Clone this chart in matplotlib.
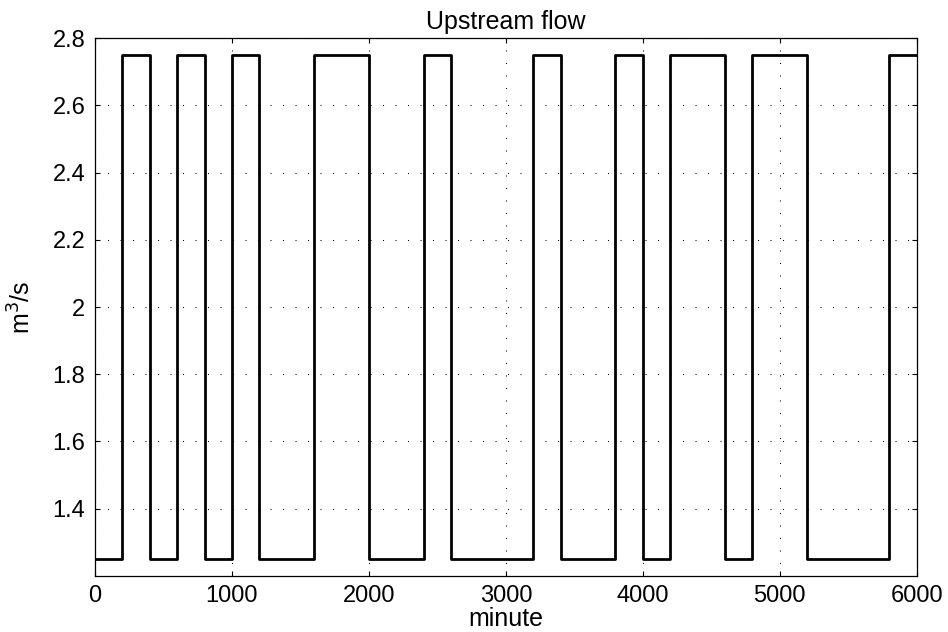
import matplotlib
matplotlib.use("Agg")
import matplotlib.pyplot as plt
import numpy as np

plt.rcParams['font.family'] = ['Liberation Sans', 'DejaVu Sans']

# interval edges (minutes) and flow per 200-minute interval
edges = list(range(0, 6001, 200))
levels = [1.25, 2.75, 1.25, 2.75, 1.25, 2.75, 1.25, 1.25, 2.75, 2.75,
          1.25, 1.25, 2.75, 1.25, 1.25, 1.25, 2.75, 1.25, 1.25, 2.75,
          1.25, 2.75, 2.75, 1.25, 2.75, 2.75, 1.25, 1.25, 1.25, 2.75]
xticks = [0, 1000, 2000, 3000, 4000, 5000, 6000]
yticks = [1.4, 1.6, 1.8, 2.0, 2.2, 2.4, 2.6, 2.8]
ytick_labels = ['1.4', '1.6', '1.8', '2', '2.2', '2.4', '2.6', '2.8']

fig = plt.figure(figsize=(9.48, 6.32), dpi=100)
ax = fig.add_axes([95/948, 1-575.7/632, (916.7-95)/948, (575.7-38.3)/632])

ys = levels + [levels[-1]]
ax.step(edges, ys, where='post', color='black', lw=2.0)

ax.set_xlim(0, 6000)
ax.set_ylim(1.2, 2.8)
ax.set_xticks(xticks)
ax.set_yticks(yticks)
ax.set_yticklabels(ytick_labels)
ax.tick_params(direction='in', length=3.6, width=0.8, labelsize=17, top=True, right=True, pad=7)
ax.grid(True, color='black', linestyle=(0, (1, 11)), linewidth=0.75)
for s in ax.spines.values():
    s.set_linewidth(0.9)

ax.set_title('Upstream flow', fontsize=18, pad=7)
ax.set_xlabel('minute', fontsize=18, labelpad=0)
ax.set_ylabel('m$^3$/s', fontsize=18, labelpad=12)

fig.savefig('out.png', dpi=100)
